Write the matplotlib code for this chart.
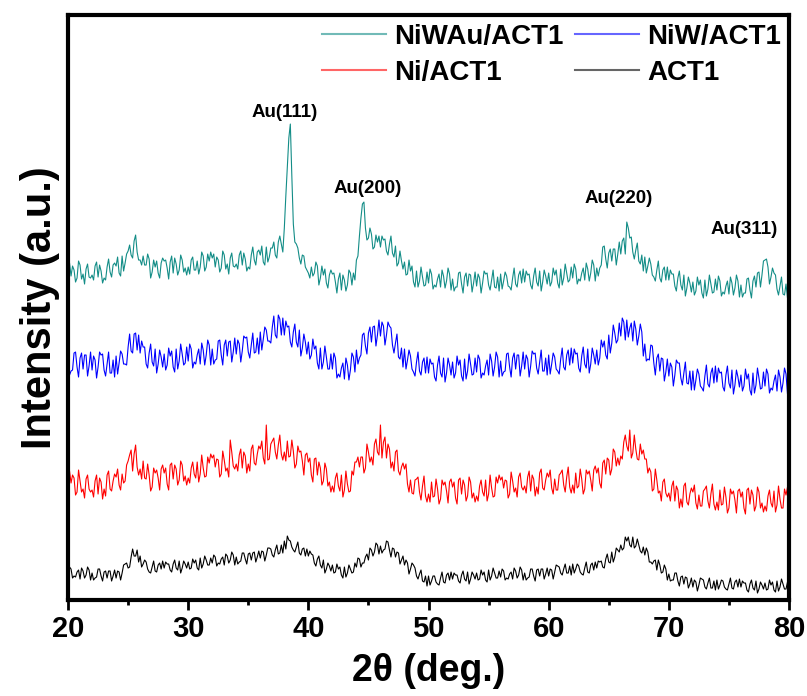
import numpy as np
import matplotlib
matplotlib.use("Agg")
from matplotlib import pyplot as plt

plt.rcParams["font.family"] = ["Liberation Sans", "DejaVu Sans"]
plt.rcParams["font.weight"] = "bold"

# XRD scans (arbitrary units, already offset per sample).
# *_a: points at 20, 20.25, ... 80 deg; *_b: points in between (20.125 ... 79.875 deg)
ni_w_au_a = [
    333, 324, 330, 322, 335, 326, 331, 323,
    325, 334, 323, 329, 322, 333, 328, 335,
    334, 327, 344, 337, 349, 345, 359, 348,
    340, 344, 335, 341, 328, 333, 327, 337,
    339, 332, 338, 327, 336, 330, 340, 332,
    333, 340, 330, 339, 333, 344, 333, 339,
    342, 333, 340, 332, 345, 336, 342, 334,
    336, 345, 335, 341, 333, 345, 340, 348,
    345, 338, 353, 343, 352, 345, 358, 356,
    372, 432, 476, 376, 356, 342, 345, 333,
    327, 333, 327, 334, 322, 325, 317, 325,
    326, 318, 321, 310, 320, 315, 327, 327,
    340, 364, 396, 372, 362, 366, 353, 358,
    353, 360, 349, 356, 347, 354, 337, 339,
    338, 326, 329, 318, 329, 319, 323, 315,
    317, 326, 315, 321, 313, 324, 319, 326,
    321, 313, 327, 316, 323, 314, 325, 317,
    314, 322, 317, 326, 315, 320, 313, 323,
    326, 319, 324, 313, 322, 316, 325, 317,
    318, 325, 315, 324, 318, 329, 318, 324,
    327, 318, 325, 317, 331, 322, 327, 320,
    322, 331, 321, 327, 320, 331, 327, 335,
    332, 332, 353, 341, 347, 339, 351, 346,
    346, 362, 378, 362, 348, 350, 339, 345,
    343, 334, 336, 323, 330, 322, 330, 320,
    320, 326, 314, 322, 315, 325, 312, 317,
    318, 309, 315, 307, 320, 311, 316, 308,
    310, 319, 308, 314, 306, 317, 312, 319,
    315, 307, 321, 310, 319, 313, 328, 325,
    340, 333, 323, 327, 311, 314, 306, 316,
    312,
]
ni_w_au_b = [
    337, 334, 318, 339, 321, 316, 336, 322,
    320, 338, 335, 317, 320, 341, 323, 337,
    343, 324, 329, 346, 355, 342, 365, 340,
    335, 335, 346, 322, 340, 339, 322, 342,
    340, 321, 344, 342, 325, 345, 328, 325,
    326, 343, 330, 326, 348, 329, 346, 348,
    346, 343, 328, 349, 331, 326, 347, 333,
    331, 349, 347, 329, 331, 353, 335, 350,
    354, 335, 338, 352, 358, 342, 364, 348,
    404, 462, 424, 358, 352, 336, 344, 330,
    322, 324, 338, 315, 334, 331, 312, 330,
    327, 307, 327, 325, 309, 330, 315, 320,
    344, 382, 398, 360, 372, 351, 365, 364,
    364, 361, 345, 364, 343, 334, 349, 331,
    325, 340, 334, 313, 313, 333, 314, 328,
    331, 311, 313, 326, 330, 312, 332, 310,
    309, 313, 328, 307, 327, 326, 308, 328,
    326, 307, 329, 327, 310, 330, 312, 309,
    311, 328, 314, 310, 332, 313, 329, 331,
    329, 326, 311, 332, 314, 309, 330, 316,
    314, 332, 330, 312, 315, 336, 318, 333,
    336, 316, 319, 332, 337, 319, 340, 319,
    324, 335, 354, 332, 351, 351, 335, 358,
    359, 346, 372, 363, 341, 357, 336, 329,
    327, 342, 325, 319, 339, 318, 333, 333,
    330, 326, 309, 329, 310, 304, 323, 308,
    305, 323, 320, 302, 304, 325, 307, 321,
    324, 304, 306, 319, 323, 305, 325, 303,
    303, 307, 322, 302, 324, 327, 313, 339,
    341, 316, 332, 325, 305, 323, 305, 302,
]

ni_w_a = [
    240, 229, 247, 233, 242, 231, 245, 234,
    230, 240, 233, 245, 230, 236, 227, 240,
    244, 237, 246, 236, 253, 249, 266, 250,
    247, 253, 236, 247, 238, 251, 236, 243,
    246, 235, 244, 233, 251, 239, 246, 237,
    239, 251, 238, 245, 236, 250, 245, 255,
    251, 240, 259, 245, 255, 244, 259, 248,
    246, 256, 249, 262, 248, 255, 247, 262,
    268, 261, 270, 259, 273, 265, 285, 265,
    265, 273, 258, 268, 258, 270, 252, 258,
    258, 245, 251, 237, 252, 238, 243, 231,
    231, 242, 226, 232, 221, 235, 230, 243,
    250, 242, 265, 254, 267, 258, 274, 265,
    264, 274, 265, 274, 255, 257, 243, 252,
    251, 240, 244, 228, 238, 229, 238, 227,
    227, 236, 223, 235, 227, 242, 227, 235,
    238, 227, 235, 224, 241, 229, 236, 226,
    228, 241, 227, 234, 225, 239, 233, 243,
    239, 228, 246, 233, 242, 231, 245, 234,
    231, 241, 234, 246, 232, 238, 229, 242,
    245, 236, 243, 229, 241, 233, 245, 235,
    237, 246, 232, 244, 236, 251, 236, 245,
    250, 242, 253, 245, 265, 257, 267, 260,
    264, 278, 280, 272, 259, 271, 264, 268,
    256, 241, 255, 237, 242, 229, 241, 228,
    224, 233, 225, 237, 222, 227, 217, 229,
    229, 220, 226, 212, 224, 216, 227, 217,
    218, 227, 213, 225, 217, 230, 215, 223,
    225, 214, 221, 210, 227, 215, 222, 212,
    214, 226, 212, 219, 209, 223, 217, 226,
    218,
]
ni_w_b = [
    225, 230, 248, 223, 247, 245, 224, 248,
    244, 222, 248, 246, 224, 248, 227, 223,
    226, 249, 236, 235, 266, 247, 267, 265,
    259, 253, 232, 256, 234, 227, 250, 233,
    230, 252, 249, 228, 231, 256, 235, 253,
    256, 232, 236, 251, 257, 235, 260, 235,
    236, 241, 260, 235, 260, 258, 238, 262,
    260, 238, 264, 263, 242, 267, 248, 246,
    250, 273, 259, 257, 284, 262, 281, 282,
    279, 274, 253, 276, 253, 244, 266, 246,
    241, 261, 254, 231, 231, 254, 231, 246,
    247, 222, 223, 237, 242, 220, 247, 228,
    236, 245, 267, 246, 273, 273, 254, 280,
    278, 255, 278, 272, 247, 266, 241, 233,
    231, 250, 231, 224, 248, 225, 242, 243,
    241, 237, 219, 244, 223, 218, 242, 225,
    222, 244, 240, 219, 221, 246, 225, 242,
    245, 222, 225, 240, 246, 224, 248, 223,
    224, 229, 247, 223, 247, 245, 224, 248,
    245, 223, 249, 247, 226, 250, 229, 225,
    226, 247, 231, 226, 252, 230, 250, 252,
    251, 247, 228, 253, 232, 227, 252, 236,
    235, 260, 259, 241, 247, 275, 257, 277,
    282, 260, 263, 277, 279, 255, 276, 244,
    239, 240, 254, 225, 246, 242, 219, 241,
    237, 214, 240, 237, 215, 238, 216, 210,
    210, 231, 214, 209, 235, 213, 232, 234,
    232, 228, 209, 234, 212, 206, 230, 213,
    209, 231, 226, 205, 207, 232, 211, 228,
    231, 207, 210, 225, 230, 208, 232, 206,
]

ni_a = [
    126, 117, 122, 108, 119, 111, 121, 111,
    110, 119, 106, 118, 111, 125, 111, 119,
    123, 115, 126, 119, 139, 150, 146, 133,
    131, 139, 121, 125, 113, 127, 122, 131,
    127, 116, 135, 121, 131, 120, 135, 124,
    122, 132, 126, 138, 126, 132, 124, 137,
    142, 133, 140, 126, 140, 132, 160, 134,
    136, 145, 132, 144, 136, 151, 137, 146,
    151, 142, 175, 141, 159, 148, 155, 146,
    148, 159, 144, 149, 136, 148, 139, 145,
    138, 125, 141, 125, 132, 119, 131, 118,
    114, 122, 114, 125, 110, 116, 109, 125,
    138, 133, 143, 132, 148, 143, 156, 148,
    175, 158, 142, 151, 138, 148, 129, 133,
    131, 116, 120, 106, 121, 108, 114, 104,
    106, 118, 104, 111, 101, 115, 109, 118,
    113, 102, 120, 106, 115, 104, 118, 107,
    104, 114, 108, 120, 106, 112, 104, 117,
    120, 112, 119, 106, 119, 112, 123, 113,
    114, 123, 109, 121, 113, 127, 112, 120,
    123, 112, 121, 110, 127, 115, 123, 113,
    115, 127, 114, 121, 111, 126, 120, 130,
    127, 117, 137, 126, 140, 131, 148, 142,
    144, 158, 154, 170, 147, 151, 140, 146,
    141, 127, 128, 111, 120, 109, 118, 107,
    107, 114, 99, 110, 101, 114, 98, 106,
    108, 97, 105, 94, 111, 99, 106, 96,
    98, 110, 96, 103, 92, 106, 100, 109,
    103, 92, 110, 96, 105, 94, 108, 97,
    94, 104, 97, 109, 95, 101, 92, 105,
    100,
]
ni_b = [
    129, 125, 105, 130, 108, 102, 125, 108,
    103, 125, 122, 101, 104, 129, 109, 126,
    131, 110, 117, 135, 145, 129, 155, 125,
    121, 122, 136, 109, 132, 130, 110, 135,
    132, 110, 137, 135, 115, 139, 119, 115,
    117, 138, 122, 118, 145, 123, 143, 146,
    145, 141, 123, 149, 129, 123, 148, 131,
    129, 151, 148, 127, 129, 155, 135, 154,
    159, 136, 140, 156, 162, 141, 165, 140,
    139, 143, 160, 132, 154, 149, 125, 147,
    142, 118, 142, 138, 115, 137, 114, 108,
    108, 127, 109, 103, 129, 108, 129, 138,
    143, 143, 127, 156, 138, 135, 161, 145,
    142, 163, 156, 132, 129, 150, 125, 137,
    136, 108, 107, 120, 123, 100, 124, 98,
    98, 103, 121, 96, 120, 118, 97, 121,
    118, 96, 122, 120, 99, 123, 102, 98,
    99, 120, 104, 99, 125, 103, 123, 125,
    123, 120, 102, 128, 108, 103, 127, 110,
    107, 129, 125, 104, 106, 131, 110, 127,
    130, 106, 110, 125, 130, 108, 133, 107,
    107, 112, 131, 106, 130, 129, 109, 134,
    132, 112, 140, 142, 125, 151, 134, 135,
    141, 165, 149, 142, 165, 141, 156, 150,
    141, 132, 109, 131, 107, 99, 121, 103,
    99, 119, 114, 92, 93, 117, 95, 112,
    115, 91, 94, 109, 114, 92, 116, 90,
    90, 95, 113, 87, 111, 109, 87, 111,
    108, 86, 112, 110, 89, 113, 92, 88,
    89, 110, 93, 88, 114, 92, 111, 113,
]

act1_a = [
    25, 31, 24, 28, 21, 29, 25, 30,
    27, 22, 31, 24, 28, 22, 29, 24,
    22, 28, 27, 36, 32, 43, 44, 50,
    44, 36, 38, 28, 33, 29, 35, 31,
    32, 36, 30, 36, 32, 39, 32, 36,
    38, 32, 37, 32, 42, 36, 40, 35,
    37, 43, 37, 41, 35, 44, 40, 45,
    43, 38, 47, 41, 46, 40, 48, 43,
    42, 48, 45, 52, 45, 50, 46, 55,
    59, 64, 59, 50, 53, 47, 51, 44,
    44, 46, 37, 41, 35, 40, 31, 34,
    35, 28, 31, 25, 33, 27, 31, 28,
    33, 41, 37, 43, 40, 50, 48, 55,
    54, 50, 59, 50, 52, 43, 47, 40,
    35, 37, 31, 35, 24, 26, 19, 24,
    24, 19, 24, 16, 22, 18, 25, 20,
    21, 25, 19, 25, 21, 28, 21, 25,
    27, 21, 25, 20, 30, 24, 27, 22,
    23, 29, 22, 26, 21, 29, 25, 30,
    27, 22, 31, 24, 30, 24, 31, 26,
    24, 30, 28, 34, 27, 31, 27, 34,
    36, 31, 34, 26, 32, 28, 35, 30,
    32, 38, 33, 41, 38, 48, 43, 50,
    55, 52, 59, 55, 63, 54, 55, 47,
    45, 48, 38, 39, 30, 35, 28, 31,
    26, 20, 27, 19, 23, 16, 22, 16,
    13, 18, 15, 21, 13, 17, 12, 19,
    20, 15, 19, 11, 16, 12, 18, 13,
    13, 17, 10, 16, 12, 19, 11, 15,
    17, 11, 15, 10, 19, 13, 16, 11,
    14,
]
act1_b = [
    33, 22, 23, 30, 32, 22, 33, 20,
    20, 23, 31, 19, 29, 29, 19, 30,
    29, 20, 35, 37, 33, 51, 44, 38,
    33, 40, 31, 27, 39, 28, 37, 39,
    38, 36, 28, 40, 30, 27, 39, 32,
    31, 41, 40, 30, 32, 44, 35, 42,
    45, 34, 36, 43, 46, 37, 48, 35,
    36, 39, 47, 36, 47, 47, 38, 49,
    49, 39, 52, 51, 43, 55, 47, 47,
    51, 60, 53, 48, 58, 45, 52, 51,
    49, 45, 34, 44, 32, 27, 37, 29,
    27, 36, 33, 22, 23, 35, 27, 37,
    42, 33, 37, 46, 52, 44, 57, 46,
    47, 51, 58, 43, 51, 48, 36, 44,
    40, 26, 37, 32, 21, 30, 18, 14,
    15, 24, 18, 15, 28, 17, 27, 28,
    27, 25, 17, 29, 19, 16, 28, 21,
    20, 30, 28, 18, 20, 32, 22, 29,
    31, 20, 21, 28, 32, 22, 33, 20,
    20, 23, 31, 19, 31, 31, 21, 32,
    31, 21, 35, 33, 25, 36, 27, 25,
    27, 36, 28, 25, 38, 27, 37, 38,
    39, 39, 32, 46, 37, 38, 52, 48,
    50, 63, 63, 53, 52, 61, 49, 53,
    52, 38, 36, 40, 40, 27, 35, 20,
    19, 20, 27, 14, 24, 23, 12, 22,
    20, 9, 22, 20, 11, 22, 12, 10,
    11, 20, 13, 10, 22, 11, 20, 21,
    19, 17, 8, 20, 10, 7, 18, 11,
    10, 20, 18, 8, 9, 21, 11, 18,
]

two_theta_a = np.linspace(20, 80, 241)
two_theta_b = np.linspace(20.125, 79.875, 240)

peak_labels = ["Au(111)", "Au(200)", "Au(220)", "Au(311)"]
peak_label_x = [38.0, 44.9, 65.8, 76.3]
peak_label_y = [488, 412, 402, 371]


def merge(a, b):
    # put the two sets of scan points back in 2-theta order
    out = np.empty(len(a) + len(b))
    out[0::2] = a
    out[1::2] = b
    return out


two_theta = merge(two_theta_a, two_theta_b)

fig = plt.figure(figsize=(8.07, 6.96), dpi=100)
ax = fig.add_axes([0.0843, 0.1379, 0.8934, 0.8405])

lw = 0.8
l_au, = ax.plot(two_theta, merge(ni_w_au_a, ni_w_au_b), color="#138d87", lw=lw, label="NiWAu/ACT1")
l_ni, = ax.plot(two_theta, merge(ni_a, ni_b), color="#ff0000", lw=lw, label="Ni/ACT1")
l_w, = ax.plot(two_theta, merge(ni_w_a, ni_w_b), color="#0000ff", lw=lw, label="NiW/ACT1")
l_act, = ax.plot(two_theta, merge(act1_a, act1_b), color="black", lw=lw, label="ACT1")

for txt, px, py in zip(peak_labels, peak_label_x, peak_label_y):
    ax.text(px, py, txt, ha="center", va="center", fontsize=13.5, fontweight="bold")

ax.set_xlim(20, 80)
ax.set_ylim(0, 585)
ax.set_xticks(np.arange(20, 81, 10))
ax.set_xticks(np.arange(25, 80, 10), minor=True)
ax.set_yticks([])
ax.tick_params(axis="x", which="major", direction="out", length=7, width=2, labelsize=21, pad=4)
ax.tick_params(axis="x", which="minor", direction="out", length=3.5, width=2)
for lab in ax.get_xticklabels():
    lab.set_fontweight("bold")
for sp in ax.spines.values():
    sp.set_linewidth(3)

ax.set_xlabel("2θ (deg.)", fontsize=27, fontweight="bold", labelpad=7)
ax.set_ylabel("Intensity (a.u.)", fontsize=30, fontweight="bold", labelpad=6)

leg = ax.legend(handles=[l_au, l_ni, l_w, l_act], ncol=2, frameon=False,
                loc="upper right", bbox_to_anchor=(0.989, 0.985),
                fontsize=20, handlelength=2.3, handletextpad=0.3,
                columnspacing=0.4, labelspacing=0.36, borderpad=0, borderaxespad=0)
for t in leg.get_texts():
    t.set_fontweight("bold")
for h in leg.get_lines():
    h.set_linewidth(1.5)
    h.set_alpha(0.6)

fig.savefig("out.png", dpi=100)
